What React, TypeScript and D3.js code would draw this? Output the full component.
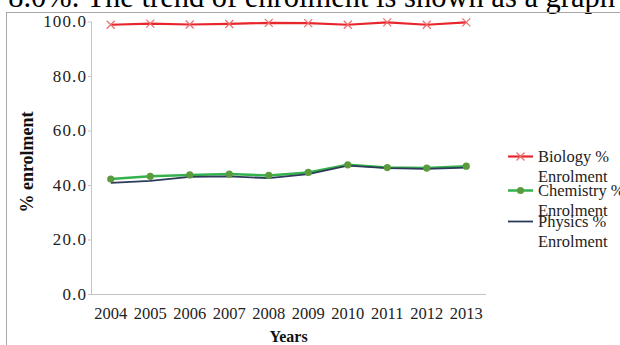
import React from "react";
import * as d3 from "d3";

const years = ["2004", "2005", "2006", "2007", "2008", "2009", "2010", "2011", "2012", "2013"];
const biology = [98.8, 99.2, 98.9, 99.1, 99.5, 99.4, 98.8, 99.7, 98.8, 99.7];
const chemistry = [42.2, 43.2, 43.7, 44.0, 43.5, 44.6, 47.4, 46.4, 46.2, 46.9];
const physics = [40.8, 41.5, 43.0, 43.2, 42.5, 44.0, 47.1, 46.2, 45.9, 46.4];
const yTicks = [0, 20, 40, 60, 80, 100];
const legendLabels = [
  ["Biology %", "Enrolment"],
  ["Chemistry %", "Enrolment"],
  ["Physics %", "Enrolment"],
];

const W = 620;
const H = 345;
const font = "'Liberation Serif', 'Times New Roman', serif";

export default function App() {
  const x = d3.scaleBand<string>().domain(years).range([91, 486]);
  const y = d3.scaleLinear().domain([0, 100]).range([294, 21.5]);
  const cx = (d: string) => (x(d) as number) + x.bandwidth() / 2;
  const line = d3
    .line<number>()
    .x((_, i) => cx(years[i]))
    .y((v) => y(v));

  const red = "#e8252b";
  const green = "#34b24c";
  const greenMarker = "#5b9b3c";
  const navy = "#2c3b5a";

  const legendY = [156.5, 190.5, 221.5];
  const legendBase = [161.5, 195.5, 226.5];

  return (
    <svg
      width={W}
      height={H}
      style={{ position: "absolute", left: 0, top: 0, background: "#fff" }}
      fontFamily={font}
    >
      {/* clipped sentence from the page above */}
      <text x={615} y={6.5} fontSize={30.5} textAnchor="end" fill="#000">
        8.0%. The trend of enrolment is shown as a graph
      </text>
      {/* chart frame */}
      <line x1={6} x2={W} y1={12.5} y2={12.5} stroke="#a8a8a8" strokeWidth={1} />
      <line x1={6.5} x2={6.5} y1={12.5} y2={H} stroke="#a8a8a8" strokeWidth={1} />

      {/* axes */}
      <line x1={91.5} x2={91.5} y1={y(100)} y2={y(0)} stroke="#c4c4c4" strokeWidth={1} />
      <line x1={91} x2={486} y1={y(0) + 0.5} y2={y(0) + 0.5} stroke="#c4c4c4" strokeWidth={1} />
      {yTicks.map((t) => (
        <g key={t}>
          <line x1={88} x2={91.5} y1={y(t) + 0.5} y2={y(t) + 0.5} stroke="#c4c4c4" />
          <text
            x={87}
            y={y(t)}
            dy="0.35em"
            textAnchor="end"
            fontSize={17}
            letterSpacing={1.1}
            fill="#222"
          >
            {t.toFixed(1)}
          </text>
        </g>
      ))}
      {years.map((d) => (
        <text key={d} x={cx(d)} y={319} textAnchor="middle" fontSize={16.5} fill="#222">
          {d}
        </text>
      ))}
      <text x={288.5} y={341.5} textAnchor="middle" fontSize={16} fontWeight="bold" fill="#111">
        Years
      </text>
      <text
        transform={`translate(33,162) rotate(-90)`}
        textAnchor="middle"
        fontSize={18}
        fontWeight="bold"
        fill="#111"
      >
        % enrolment
      </text>

      {/* series */}
      <path d={line(biology) || ""} fill="none" stroke={red} strokeWidth={2.2} />
      {biology.map((v, i) => {
        const px = cx(years[i]);
        const py = y(v);
        return (
          <path
            key={i}
            d={`M${px - 4},${py - 4}L${px + 4},${py + 4}M${px - 4},${py + 4}L${px + 4},${py - 4}`}
            stroke="#ef6b6e"
            strokeWidth={1.2}
          />
        );
      })}
      <path d={line(chemistry) || ""} fill="none" stroke={green} strokeWidth={2.5} />
      <path d={line(physics) || ""} fill="none" stroke={navy} strokeWidth={1.8} />
      {chemistry.map((v, i) => (
        <circle key={i} cx={cx(years[i])} cy={y(v)} r={3.6} fill={greenMarker} />
      ))}

      {/* legend */}
      <g>
        <line x1={508} x2={533} y1={legendY[0]} y2={legendY[0]} stroke={red} strokeWidth={2.2} />
        <path
          d={`M${520.5 - 4},${legendY[0] - 4}L${520.5 + 4},${legendY[0] + 4}M${520.5 - 4},${legendY[0] + 4}L${520.5 + 4},${legendY[0] - 4}`}
          stroke="#ef6b6e"
          strokeWidth={1.2}
        />
        <line x1={508} x2={533} y1={legendY[1]} y2={legendY[1]} stroke={green} strokeWidth={2.5} />
        <circle cx={520.5} cy={legendY[1]} r={3.6} fill={greenMarker} />
        <line x1={508} x2={533} y1={legendY[2]} y2={legendY[2]} stroke={navy} strokeWidth={1.8} />
        {legendLabels.map((lines, i) => (
          <text key={i} x={538} y={legendBase[i]} fontSize={16.5} fill="#222">
            <tspan x={538}>{lines[0]}</tspan>
            <tspan x={538} dy={20}>
              {lines[1]}
            </tspan>
          </text>
        ))}
      </g>
    </svg>
  );
}
